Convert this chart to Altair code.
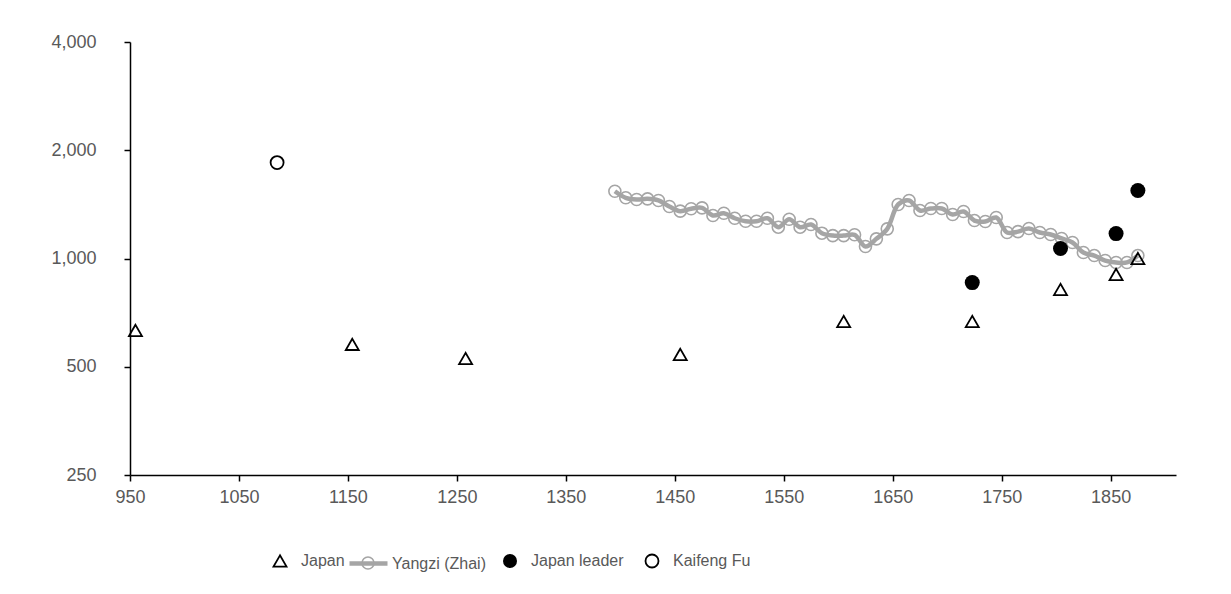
import altair as alt
import pandas as pd

# ---- data ----
japan_years = [955, 1154, 1258, 1455, 1605, 1723, 1804, 1855, 1875]
japan_values = [631, 577, 527, 541, 668, 668, 820, 903, 1000]

leader_years = [1723, 1804, 1855, 1875]
leader_values = [857, 1066, 1173, 1545]

kaifeng_years = [1085]
kaifeng_values = [1848]

yangzi_years = [1395, 1405, 1415, 1425, 1435, 1445, 1455, 1465, 1475, 1485,
                1495, 1505, 1515, 1525, 1535, 1545, 1555, 1565, 1575, 1585,
                1595, 1605, 1615, 1625, 1635, 1645, 1655, 1665, 1675, 1685,
                1695, 1705, 1715, 1725, 1735, 1745, 1755, 1765, 1775, 1785,
                1795, 1805, 1815, 1825, 1835, 1845, 1855, 1865, 1875]
yangzi_values = [1538, 1475, 1459, 1465, 1450, 1395, 1354, 1375, 1383, 1317,
                 1336, 1294, 1269, 1269, 1294, 1222, 1286, 1222, 1243, 1176,
                 1158, 1158, 1164, 1080, 1134, 1209, 1413, 1450, 1360, 1377,
                 1377, 1325, 1351, 1275, 1267, 1300, 1181, 1188, 1212, 1181,
                 1166, 1137, 1108, 1039, 1019, 987, 975, 975, 1019]

x_ticks = [950, 1050, 1150, 1250, 1350, 1450, 1550, 1650, 1750, 1850]
y_ticks = [250, 500, 1000, 2000, 4000]

FONT = "Liberation Sans"
TXT = "#595959"
GREY = "#A5A5A5"

japan_df = pd.DataFrame({"year": japan_years, "value": japan_values, "series": "Japan"})
leader_df = pd.DataFrame({"year": leader_years, "value": leader_values, "series": "Japan leader"})
kaifeng_df = pd.DataFrame({"year": kaifeng_years, "value": kaifeng_values, "series": "Kaifeng Fu"})
yangzi_df = pd.DataFrame({"year": yangzi_years, "value": yangzi_values, "series": "Yangzi (Zhai)"})

X = alt.X("year:Q",
          scale=alt.Scale(domain=[950, 1910], nice=False, zero=False),
          axis=alt.Axis(values=x_ticks, format="d", title=None, grid=False,
                        labelPadding=7, labelFlush=False))
Y = alt.Y("value:Q",
          scale=alt.Scale(type="log", base=2, domain=[250, 4000], nice=False),
          axis=alt.Axis(values=y_ticks, format=",", title=None, grid=False,
                        labelPadding=28))

LY = 511
leg_common = dict(orient="none", title=None, padding=0, labelFont=FONT,
                  labelFontSize=16, labelColor=TXT)

yangzi_line = alt.Chart(yangzi_df).mark_line(
    interpolate="catmull-rom", strokeWidth=4.5
).encode(
    x=X, y=Y,
    color=alt.Color("series:N",
                    scale=alt.Scale(domain=["Yangzi (Zhai)"], range=[GREY]),
                    legend=alt.Legend(legendX=217, legendY=LY - 11,
                                      symbolType="stroke", symbolSize=1444,
                                      symbolStrokeWidth=4.5, labelOffset=2,
                                      **leg_common))
)

yangzi_pts = alt.Chart(yangzi_df).mark_point(
    shape="circle", filled=False, strokeWidth=1.6, color=GREY, opacity=1
).encode(
    x=X, y=Y,
    size=alt.Size("series:N",
                  scale=alt.Scale(domain=["Yangzi (Zhai)"], range=[144, 144]),
                  legend=alt.Legend(legendX=230, legendY=LY + 2, labelExpr="''",
                                    symbolType="circle",
                                    symbolStrokeColor=GREY,
                                    symbolFillColor="white",
                                    symbolStrokeWidth=1.6,
                                    **leg_common))
)

japan = alt.Chart(japan_df).mark_point(
    filled=False, strokeWidth=1.8, color="black", opacity=1
).encode(
    x=X, y=Y,
    shape=alt.Shape("series:N",
                    scale=alt.Scale(domain=["Japan"], range=["triangle-up"]),
                    legend=alt.Legend(legendX=142, legendY=LY,
                                      symbolSize=169, symbolStrokeColor="black",
                                      symbolFillColor="transparent",
                                      symbolStrokeWidth=1.8, labelOffset=13,
                                      **leg_common)),
    size=alt.value(169)
)

leader = alt.Chart(leader_df).mark_point(
    shape="circle", filled=True, opacity=1, strokeWidth=0
).encode(
    x=X, y=Y,
    fill=alt.Fill("series:N",
                  scale=alt.Scale(domain=["Japan leader"], range=["black"]),
                  legend=alt.Legend(legendX=372, legendY=LY,
                                    symbolType="circle", symbolSize=196,
                                    symbolStrokeWidth=0, labelOffset=13,
                                    **leg_common)),
    size=alt.value(225)
)

kaifeng = alt.Chart(kaifeng_df).mark_point(
    shape="circle", filled=False, strokeWidth=1.8, opacity=1
).encode(
    x=X, y=Y,
    stroke=alt.Stroke("series:N",
                      scale=alt.Scale(domain=["Kaifeng Fu"], range=["black"]),
                      legend=alt.Legend(legendX=514, legendY=LY,
                                        symbolType="circle", symbolSize=169,
                                        symbolStrokeWidth=1.8,
                                        symbolFillColor="transparent",
                                        labelOffset=13, **leg_common)),
    size=alt.value(169)
)

chart = alt.layer(
    yangzi_line, yangzi_pts, japan, leader, kaifeng
).resolve_scale(
    color="independent", size="independent", shape="independent",
    fill="independent", stroke="independent"
).resolve_legend(
    color="independent", size="independent", shape="independent",
    fill="independent", stroke="independent"
).properties(
    width=1046, height=433,
    autosize=alt.AutoSizeParams(type="none"),
    padding={"left": 122, "top": 34, "right": 47, "bottom": 111},
    background="white"
).configure_view(
    stroke=None
).configure_axis(
    domainColor="black", domainWidth=1.5, tickColor="black", tickWidth=1.5,
    tickSize=6, labelColor=TXT, labelFont=FONT, labelFontSize=18
)

chart.save("out.html", embed_options={"renderer": "svg", "actions": False})
